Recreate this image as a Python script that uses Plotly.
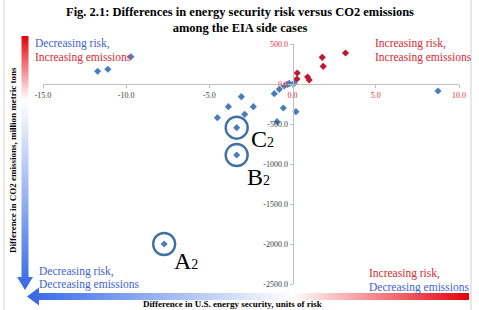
import base64
import plotly.graph_objects as go

# ---------------- data ----------------
blue_x = [-9.72, -11.72, -11.1, 8.74, -7.72, -3.36, -3.36, -4.52, -3.86, -3.08, -2.88,
          -2.36, -1.1, -0.8, -0.5, -0.2, 0.04, -0.56, 0.2, -0.94, 0.1, -0.3]
blue_y = [341, 159, 184, -87, -2000, -888, -546, -421, -283, -158, -379,
          -283, -121, -67, -25, 8, 0, -300, -346, -471, 10, -5]
red_x = [3.18, 1.78, 1.84, 0.28, 0.26, 0.9, 1.0]
red_y = [387, 333, 221, 137, 62, 87, 50]

hl_names = ["A", "B", "C"]
hl_x = [-7.72, -3.36, -3.36]
hl_y = [-2000, -888, -546]

x_tickvals = [-15, -10, -5, 0, 5, 10]
x_ticktext = ["-15.0", "-10.0", "-5.0", "0.0", "5.0", "10.0"]
y_tickvals = [500, 0, -500, -1000, -1500, -2000, -2500]
y_ticktext = ["500.0", "0.0", "-500.0", "-1000.0", "-1500.0", "-2000.0", "-2500.0"]

# ---------------- layout helpers ----------------
W, H = 479, 310
ML, MR, MT, MB = 43, 20, 44, 26
PW, PH = W - ML - MR, H - MT - MB
SERIF = "Times New Roman, Liberation Serif, serif"


def px(x):
    return (x - ML) / PW


def py(y):
    return (H - MB - y) / PH


BLUE_TXT = "#3f5fcf"
RED_TXT = "#d42a35"
NEG_TICK = "#404040"
POS_TICK = "#e0303a"


def colored(vals, texts):
    out = []
    for v, t in zip(vals, texts):
        c = POS_TICK if v >= 0 else NEG_TICK
        out.append(f"<span style='color:{c}'>{t}</span>")
    return out


fig = go.Figure()

fig.add_trace(go.Scatter(x=blue_x, y=blue_y, mode="markers",
                         marker=dict(symbol="diamond", size=5.5, color="#4a7ebb"),
                         hoverinfo="skip", showlegend=False))
fig.add_trace(go.Scatter(x=red_x, y=red_y, mode="markers",
                         marker=dict(symbol="diamond", size=5.5, color="#c0172f"),
                         hoverinfo="skip", showlegend=False))
fig.add_trace(go.Scatter(x=hl_x, y=hl_y, mode="markers",
                         marker=dict(symbol="circle-open", size=22,
                                     line=dict(width=2.4, color="#4170a6"),
                                     color="#4170a6"),
                         hoverinfo="skip", showlegend=False))

annotations = []
# highlight labels
shifts = {"A": (22, -17), "B": (22, -22), "C": (26, -11)}
for n, x, y in zip(hl_names, hl_x, hl_y):
    dx, dy = shifts[n]
    annotations.append(dict(x=x, y=y, xref="x", yref="y", showarrow=False,
                            text=f"{n}<span style='font-size:14px'>2</span>",
                            font=dict(family=SERIF, size=24, color="black"),
                            xshift=dx, yshift=dy))

# title
annotations.append(dict(x=px(240), y=py(20), xref="paper", yref="paper", showarrow=False,
                        text="<b>Fig. 2.1: Differences in energy security risk versus CO2 emissions"
                             "<br>among the EIA side cases</b>",
                        font=dict(family=SERIF, size=12.5, color="black"),
                        align="center", xanchor="center", yanchor="middle"))

# corner texts
corner = [
    (33, 43.5, "Decreasing risk,", BLUE_TXT),
    (33, 57, "Increasing emissions", RED_TXT),
    (373, 43.5, "Increasing risk,", RED_TXT),
    (373, 57, "Increasing emissions", RED_TXT),
    (37, 271, "Decreasing risk,", BLUE_TXT),
    (37, 284, "Decreasing emissions", BLUE_TXT),
    (367, 273.5, "Increasing risk,", RED_TXT),
    (367, 287, "Decreasing emissions", BLUE_TXT),
]
for x, y, t, c in corner:
    annotations.append(dict(x=px(x), y=py(y), xref="paper", yref="paper", showarrow=False,
                            text=t, font=dict(family=SERIF, size=11.5, color=c),
                            xanchor="left", yanchor="middle"))

# axis titles
annotations.append(dict(x=px(13), y=py(160), xref="paper", yref="paper", showarrow=False,
                        text="<b>Difference in CO2 emissions, million metric tons</b>",
                        textangle=-90,
                        font=dict(family=SERIF, size=9, color="black"),
                        xanchor="center", yanchor="middle"))
annotations.append(dict(x=px(232), y=py(304), xref="paper", yref="paper", showarrow=False,
                        text="<b>Difference in U.S. energy security, units of risk</b>",
                        font=dict(family=SERIF, size=9, color="black"),
                        xanchor="center", yanchor="middle"))

# gradient arrows as svg images
v_svg = """<svg xmlns='http://www.w3.org/2000/svg' width='20' height='254' viewBox='0 0 20 254'>
<defs><linearGradient id='g' x1='0' y1='0' x2='0' y2='1'>
<stop offset='0' stop-color='#e6000a'/><stop offset='0.25' stop-color='#ffffff'/>
<stop offset='1' stop-color='#3568e6'/></linearGradient></defs>
<polygon points='6.5,0 13.5,0 13.5,241 18,241 10,254 2,241 6.5,241' fill='url(#g)'/>
</svg>"""
h_svg = """<svg xmlns='http://www.w3.org/2000/svg' width='442' height='20' viewBox='0 0 442 20'>
<defs><linearGradient id='g' x1='0' y1='0' x2='1' y2='0'>
<stop offset='0' stop-color='#3568e6'/><stop offset='0.6' stop-color='#ffffff'/>
<stop offset='1' stop-color='#e6000a'/></linearGradient></defs>
<polygon points='0,10 12,1 12,6.5 442,6.5 442,13.5 12,13.5 12,19' fill='url(#g)'/>
</svg>"""


def uri(s):
    return "data:image/svg+xml;base64," + base64.b64encode(s.encode()).decode()


images = [
    dict(source=uri(v_svg), xref="paper", yref="paper", x=px(15), y=py(36),
         sizex=20 / PW, sizey=254 / PH, sizing="stretch", xanchor="left", yanchor="top",
         layer="below"),
    dict(source=uri(h_svg), xref="paper", yref="paper", x=px(27), y=py(286.5),
         sizex=442 / PW, sizey=20 / PH, sizing="stretch", xanchor="left", yanchor="top",
         layer="below"),
]

shapes = [
    dict(type="line", xref="paper", yref="paper", x0=px(4), x1=px(4), y0=py(0), y1=py(310),
         line=dict(color="#d0d0d0", width=1)),
    dict(type="line", xref="paper", yref="paper", x0=px(471), x1=px(471), y0=py(0), y1=py(310),
         line=dict(color="#d0d0d0", width=1)),
]

fig.update_layout(
    width=W, height=H,
    margin=dict(l=ML, r=MR, t=MT, b=MB),
    paper_bgcolor="white", plot_bgcolor="white",
    annotations=annotations, images=images, shapes=shapes,
    xaxis=dict(range=[-15, 10], anchor="free", position=2500 / 3000,
               showline=True, linecolor="#bfbfbf", linewidth=1,
               showgrid=False, zeroline=False,
               tickvals=x_tickvals, ticktext=colored(x_tickvals, x_ticktext),
               ticks="outside", ticklen=3, tickcolor="#bfbfbf",
               tickfont=dict(family=SERIF, size=8, color=NEG_TICK)),
    yaxis=dict(range=[-2500, 500], anchor="free", position=15 / 25,
               showline=True, linecolor="#bfbfbf", linewidth=1,
               showgrid=False, zeroline=False,
               tickvals=y_tickvals, ticktext=colored(y_tickvals, y_ticktext),
               ticks="outside", ticklen=3, tickcolor="#bfbfbf",
               tickfont=dict(family=SERIF, size=8, color=NEG_TICK)),
)

fig.write_html("out.html")
